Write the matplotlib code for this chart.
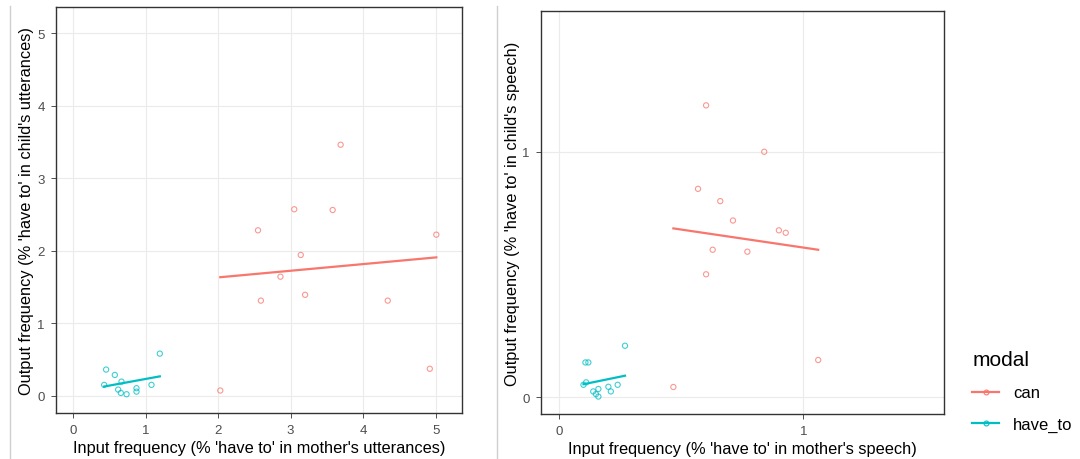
import matplotlib.pyplot as plt
from matplotlib.lines import Line2D
import numpy as np

plt.rcParams['font.family'] = ['Liberation Sans', 'DejaVu Sans']

# Utterance-based frequencies (%)
can_input_utt = [3.69, 3.05, 3.58, 2.55, 5.01, 3.14, 2.86, 3.20, 2.59, 4.34, 4.92, 2.03]
can_output_utt = [3.46, 2.57, 2.56, 2.28, 2.22, 1.94, 1.64, 1.39, 1.31, 1.31, 0.37, 0.07]
have_input_utt = [0.455, 0.575, 1.196, 0.428, 0.667, 1.081, 0.621, 0.658, 0.737, 0.874, 0.874]
have_output_utt = [0.359, 0.285, 0.579, 0.148, 0.193, 0.148, 0.083, 0.037, 0.019, 0.102, 0.055]

# Speech-based frequencies (%)
can_input_sp = [0.602, 0.840, 0.569, 0.660, 0.712, 0.900, 0.928, 0.629, 0.771, 0.602, 1.061, 0.468]
can_output_sp = [1.189, 1.000, 0.849, 0.799, 0.720, 0.680, 0.670, 0.601, 0.593, 0.501, 0.152, 0.042]
have_input_sp = [0.270, 0.108, 0.120, 0.100, 0.111, 0.140, 0.161, 0.151, 0.161, 0.202, 0.212, 0.240]
have_output_sp = [0.210, 0.142, 0.142, 0.051, 0.061, 0.024, 0.034, 0.013, 0.003, 0.043, 0.024, 0.051]

modals = ['can', 'have_to']
colors = {'can': '#F8766D', 'have_to': '#00BFC4'}


def draw_group(ax, x, y, color):
    x = np.array(x)
    y = np.array(y)
    ax.scatter(x, y, s=14, facecolors='none', edgecolors=color, linewidths=0.8, alpha=0.75, zorder=3)
    # linear fit over the range of the group
    slope, intercept = np.polyfit(x, y, 1)
    xs = np.array([x.min(), x.max()])
    ax.plot(xs, intercept + slope * xs, color=color, lw=1.6, zorder=4)


def style_axes(ax, ticks):
    ax.set_xticks(ticks)
    ax.set_yticks(ticks)
    ax.grid(True, color='#EBEBEB', lw=0.8)
    ax.set_axisbelow(True)
    for sp in ax.spines.values():
        sp.set_color('#333333')
        sp.set_linewidth(1.0)
    ax.tick_params(length=3.5, width=0.6, color='#333333', labelcolor='#4D4D4D', labelsize=9.5, pad=4.5)


fig = plt.figure(figsize=(10.8, 4.6), dpi=100)

ax1 = fig.add_axes([0.0516, 0.1, 0.3759, 0.8826])
draw_group(ax1, can_input_utt, can_output_utt, colors['can'])
draw_group(ax1, have_input_utt, have_output_utt, colors['have_to'])
ax1.set_xlim(-0.24, 5.36)
ax1.set_ylim(-0.24, 5.36)
style_axes(ax1, [0, 1, 2, 3, 4, 5])
ax1.set_xlabel("Input frequency (% 'have to' in mother's utterances)", fontsize=11.8, labelpad=3)
ax1.set_ylabel("Output frequency (% 'have to' in child's utterances)", fontsize=11.8, labelpad=2)

ax2 = fig.add_axes([0.5009, 0.0978, 0.3734, 0.876])
draw_group(ax2, can_input_sp, can_output_sp, colors['can'])
draw_group(ax2, have_input_sp, have_output_sp, colors['have_to'])
ax2.set_xlim(-0.074, 1.577)
ax2.set_ylim(-0.068, 1.573)
style_axes(ax2, [0, 1])
ax2.set_xlabel("Input frequency (% 'have to' in mother's speech)", fontsize=11.8, labelpad=3)
ax2.set_ylabel("Output frequency (% 'have to' in child's speech)", fontsize=11.8, labelpad=2)

# pane separators
for xf in [10 / 1080, 497 / 1080]:
    fig.add_artist(Line2D([xf, xf], [0, 0.985], transform=fig.transFigure, color='#CFCFCF', lw=1))

handles = [Line2D([0], [0], color=colors[m], lw=1.6, marker='o', markersize=3.5,
                  markerfacecolor='none', markeredgewidth=0.8) for m in modals]
leg = fig.legend(handles, modals, title='modal', loc='upper left', bbox_to_anchor=(0.8865, 0.270),
                 frameon=False, fontsize=12, title_fontsize=15, handlelength=1.6,
                 handletextpad=0.85, labelspacing=1.0)
leg._legend_box.align = 'left'

fig.savefig('out.png', dpi=100)
